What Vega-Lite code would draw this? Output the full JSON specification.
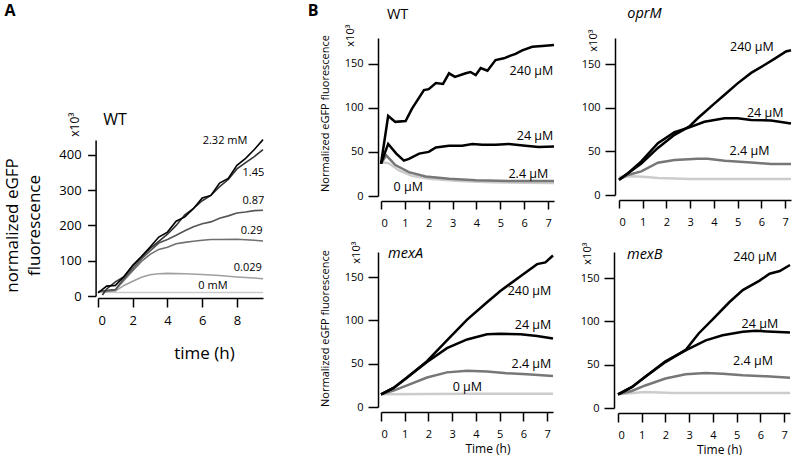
{
  "$schema": "https://vega.github.io/schema/vega-lite/v6.json",
  "background": "white",
  "padding": {"left": 3, "top": 3, "right": 0, "bottom": 0},
  "config": {
    "font": "Open Sans",
    "view": {"stroke": null},
    "axis": {"grid": false, "domainColor": "#000", "tickColor": "#000", "labelColor": "#000", "titleColor": "#000", "domainWidth": 1.5, "tickWidth": 1.5, "labelFont": "Open Sans", "titleFont": "Open Sans", "titleFontWeight": "normal", "labelOverlap": false},
    "text": {"font": "Open Sans", "color": "#000"}
  },
  "datasets": {
    "a": [
      {"c": "0 mM", "t": 0, "v": 11}, {"c": "0 mM", "t": 1, "v": 10}, {"c": "0 mM", "t": 3, "v": 10}, {"c": "0 mM", "t": 6, "v": 10}, {"c": "0 mM", "t": 9.5, "v": 10},
      {"c": "0.029", "t": 0, "v": 12}, {"c": "0.029", "t": 0.5, "v": 12}, {"c": "0.029", "t": 1, "v": 14}, {"c": "0.029", "t": 1.5, "v": 30}, {"c": "0.029", "t": 2, "v": 42}, {"c": "0.029", "t": 2.5, "v": 53}, {"c": "0.029", "t": 3, "v": 60}, {"c": "0.029", "t": 3.5, "v": 63}, {"c": "0.029", "t": 4, "v": 64}, {"c": "0.029", "t": 5, "v": 63}, {"c": "0.029", "t": 6, "v": 61}, {"c": "0.029", "t": 7, "v": 58}, {"c": "0.029", "t": 8, "v": 54}, {"c": "0.029", "t": 9, "v": 51}, {"c": "0.029", "t": 9.5, "v": 49},
      {"c": "0.29", "t": 0, "v": 12}, {"c": "0.29", "t": 0.5, "v": 14}, {"c": "0.29", "t": 1, "v": 17}, {"c": "0.29", "t": 1.5, "v": 45}, {"c": "0.29", "t": 2, "v": 72}, {"c": "0.29", "t": 2.5, "v": 98}, {"c": "0.29", "t": 3, "v": 118}, {"c": "0.29", "t": 3.5, "v": 132}, {"c": "0.29", "t": 4, "v": 138}, {"c": "0.29", "t": 4.5, "v": 148}, {"c": "0.29", "t": 5, "v": 152}, {"c": "0.29", "t": 5.5, "v": 155}, {"c": "0.29", "t": 6, "v": 158}, {"c": "0.29", "t": 6.5, "v": 160}, {"c": "0.29", "t": 7, "v": 160}, {"c": "0.29", "t": 8, "v": 161}, {"c": "0.29", "t": 9, "v": 158}, {"c": "0.29", "t": 9.5, "v": 156},
      {"c": "0.87", "t": 0, "v": 12}, {"c": "0.87", "t": 0.5, "v": 16}, {"c": "0.87", "t": 1, "v": 18}, {"c": "0.87", "t": 1.5, "v": 50}, {"c": "0.87", "t": 2, "v": 78}, {"c": "0.87", "t": 2.5, "v": 105}, {"c": "0.87", "t": 3, "v": 128}, {"c": "0.87", "t": 3.5, "v": 150}, {"c": "0.87", "t": 4, "v": 160}, {"c": "0.87", "t": 4.5, "v": 172}, {"c": "0.87", "t": 5, "v": 185}, {"c": "0.87", "t": 5.5, "v": 196}, {"c": "0.87", "t": 6, "v": 205}, {"c": "0.87", "t": 6.5, "v": 210}, {"c": "0.87", "t": 7, "v": 220}, {"c": "0.87", "t": 7.5, "v": 227}, {"c": "0.87", "t": 8, "v": 235}, {"c": "0.87", "t": 8.5, "v": 238}, {"c": "0.87", "t": 9, "v": 242}, {"c": "0.87", "t": 9.5, "v": 243},
      {"c": "1.45", "t": 0.25, "v": 3}, {"c": "1.45", "t": 0.5, "v": 20}, {"c": "1.45", "t": 1, "v": 40}, {"c": "1.45", "t": 1.5, "v": 55}, {"c": "1.45", "t": 2, "v": 85}, {"c": "1.45", "t": 2.5, "v": 110}, {"c": "1.45", "t": 3, "v": 135}, {"c": "1.45", "t": 3.5, "v": 155}, {"c": "1.45", "t": 4, "v": 175}, {"c": "1.45", "t": 4.5, "v": 200}, {"c": "1.45", "t": 5, "v": 230}, {"c": "1.45", "t": 5.5, "v": 248}, {"c": "1.45", "t": 6, "v": 270}, {"c": "1.45", "t": 6.5, "v": 285}, {"c": "1.45", "t": 7, "v": 310}, {"c": "1.45", "t": 7.5, "v": 330}, {"c": "1.45", "t": 8, "v": 360}, {"c": "1.45", "t": 8.5, "v": 378}, {"c": "1.45", "t": 9, "v": 395}, {"c": "1.45", "t": 9.5, "v": 415},
      {"c": "2.32 mM", "t": 0, "v": 9}, {"c": "2.32 mM", "t": 0.5, "v": 28}, {"c": "2.32 mM", "t": 1, "v": 30}, {"c": "2.32 mM", "t": 1.5, "v": 55}, {"c": "2.32 mM", "t": 2, "v": 87}, {"c": "2.32 mM", "t": 2.5, "v": 112}, {"c": "2.32 mM", "t": 3, "v": 139}, {"c": "2.32 mM", "t": 3.5, "v": 167}, {"c": "2.32 mM", "t": 4, "v": 181}, {"c": "2.32 mM", "t": 4.5, "v": 212}, {"c": "2.32 mM", "t": 5, "v": 224}, {"c": "2.32 mM", "t": 5.5, "v": 248}, {"c": "2.32 mM", "t": 6, "v": 278}, {"c": "2.32 mM", "t": 6.5, "v": 285}, {"c": "2.32 mM", "t": 7, "v": 320}, {"c": "2.32 mM", "t": 7.5, "v": 333}, {"c": "2.32 mM", "t": 8, "v": 370}, {"c": "2.32 mM", "t": 8.5, "v": 390}, {"c": "2.32 mM", "t": 9, "v": 415}, {"c": "2.32 mM", "t": 9.5, "v": 443}
    ],
    "al": [
      {"label": "2.32 mM", "t": 8.6, "v": 439}, {"label": "1.45", "t": 9.57, "v": 348}, {"label": "0.87", "t": 9.57, "v": 270}, {"label": "0.29", "t": 9.47, "v": 184}, {"label": "0.029", "t": 9.43, "v": 78}, {"label": "0 mM", "t": 7.46, "v": 27}
    ],
    "at": [{"label": "WT", "t": 0.3, "v": 484.5}],
    "ap": [{"label": "A", "t": -5.38, "v": 792}],
    "wt": [
      {"c": "0 µM", "t": 0, "v": 38.5}, {"c": "0 µM", "t": 0.33, "v": 37}, {"c": "0 µM", "t": 0.75, "v": 29}, {"c": "0 µM", "t": 1.3, "v": 23}, {"c": "0 µM", "t": 2, "v": 19.6}, {"c": "0 µM", "t": 3.27, "v": 17}, {"c": "0 µM", "t": 4.67, "v": 15.5}, {"c": "0 µM", "t": 6, "v": 15}, {"c": "0 µM", "t": 7.25, "v": 14.7},
      {"c": "2.4 µM", "t": 0, "v": 36.6}, {"c": "2.4 µM", "t": 0.22, "v": 46}, {"c": "2.4 µM", "t": 0.6, "v": 35}, {"c": "2.4 µM", "t": 1.17, "v": 27}, {"c": "2.4 µM", "t": 1.87, "v": 22}, {"c": "2.4 µM", "t": 2.85, "v": 19.6}, {"c": "2.4 µM", "t": 3.97, "v": 17.8}, {"c": "2.4 µM", "t": 5.36, "v": 17}, {"c": "2.4 µM", "t": 7.25, "v": 17},
      {"c": "24 µM", "t": 0, "v": 36.6}, {"c": "24 µM", "t": 0.3, "v": 59}, {"c": "24 µM", "t": 0.64, "v": 48}, {"c": "24 µM", "t": 0.96, "v": 40}, {"c": "24 µM", "t": 1.17, "v": 42}, {"c": "24 µM", "t": 1.6, "v": 48}, {"c": "24 µM", "t": 2, "v": 50}, {"c": "24 µM", "t": 2.3, "v": 55}, {"c": "24 µM", "t": 2.85, "v": 57}, {"c": "24 µM", "t": 3.4, "v": 57}, {"c": "24 µM", "t": 3.83, "v": 59}, {"c": "24 µM", "t": 4.25, "v": 58}, {"c": "24 µM", "t": 4.8, "v": 58}, {"c": "24 µM", "t": 5.36, "v": 59}, {"c": "24 µM", "t": 6.06, "v": 57}, {"c": "24 µM", "t": 6.6, "v": 55.5}, {"c": "24 µM", "t": 7.25, "v": 56},
      {"c": "240 µM", "t": 0, "v": 36.6}, {"c": "240 µM", "t": 0.3, "v": 90.7}, {"c": "240 µM", "t": 0.6, "v": 84}, {"c": "240 µM", "t": 1.03, "v": 85}, {"c": "240 µM", "t": 1.3, "v": 99}, {"c": "240 µM", "t": 1.8, "v": 120}, {"c": "240 µM", "t": 2, "v": 121}, {"c": "240 µM", "t": 2.3, "v": 128}, {"c": "240 µM", "t": 2.6, "v": 127}, {"c": "240 µM", "t": 2.85, "v": 139}, {"c": "240 µM", "t": 3.1, "v": 135}, {"c": "240 µM", "t": 3.55, "v": 139}, {"c": "240 µM", "t": 3.75, "v": 140.5}, {"c": "240 µM", "t": 3.97, "v": 137}, {"c": "240 µM", "t": 4.18, "v": 145}, {"c": "240 µM", "t": 4.46, "v": 142}, {"c": "240 µM", "t": 4.8, "v": 154}, {"c": "240 µM", "t": 5.15, "v": 156}, {"c": "240 µM", "t": 5.43, "v": 159}, {"c": "240 µM", "t": 5.64, "v": 161}, {"c": "240 µM", "t": 5.92, "v": 165}, {"c": "240 µM", "t": 6.34, "v": 169}, {"c": "240 µM", "t": 6.76, "v": 170}, {"c": "240 µM", "t": 7.25, "v": 171}
    ],
    "wtl": [
      {"label": "240 µM", "t": 7.22, "v": 142}, {"label": "24 µM", "t": 7.22, "v": 67.6}, {"label": "2.4 µM", "t": 7.01, "v": 25}, {"label": "0 µM", "t": 1.76, "v": 10}
    ],
    "wtt": [{"label": "WT", "t": 0.25, "v": 200.5}],
    "bp": [{"label": "B", "t": -3.07, "v": 203.5}],
    "oprm": [
      {"c": "0 µM", "t": 0, "v": 20.6}, {"c": "0 µM", "t": 0.5, "v": 21.4}, {"c": "0 µM", "t": 1, "v": 21}, {"c": "0 µM", "t": 1.64, "v": 19.5}, {"c": "0 µM", "t": 3, "v": 18.3}, {"c": "0 µM", "t": 5, "v": 18.3}, {"c": "0 µM", "t": 7.25, "v": 18.3},
      {"c": "2.4 µM", "t": 0, "v": 17.6}, {"c": "2.4 µM", "t": 0.38, "v": 23}, {"c": "2.4 µM", "t": 0.94, "v": 27}, {"c": "2.4 µM", "t": 1.64, "v": 37}, {"c": "2.4 µM", "t": 2.34, "v": 40}, {"c": "2.4 µM", "t": 3.32, "v": 41.6}, {"c": "2.4 µM", "t": 3.74, "v": 41.6}, {"c": "2.4 µM", "t": 4.45, "v": 39.3}, {"c": "2.4 µM", "t": 5.57, "v": 37.4}, {"c": "2.4 µM", "t": 6.41, "v": 35.5}, {"c": "2.4 µM", "t": 7.25, "v": 35.5},
      {"c": "24 µM", "t": 0, "v": 17.6}, {"c": "24 µM", "t": 0.38, "v": 25}, {"c": "24 µM", "t": 0.94, "v": 38.5}, {"c": "24 µM", "t": 1.64, "v": 59.5}, {"c": "24 µM", "t": 2.34, "v": 72}, {"c": "24 µM", "t": 2.97, "v": 77.5}, {"c": "24 µM", "t": 3.6, "v": 84}, {"c": "24 µM", "t": 4.45, "v": 88}, {"c": "24 µM", "t": 5, "v": 88}, {"c": "24 µM", "t": 5.57, "v": 86}, {"c": "24 µM", "t": 6.41, "v": 85.5}, {"c": "24 µM", "t": 7.25, "v": 82},
      {"c": "240 µM", "t": 0, "v": 17.6}, {"c": "240 µM", "t": 0.38, "v": 25}, {"c": "240 µM", "t": 0.94, "v": 36}, {"c": "240 µM", "t": 1.64, "v": 54}, {"c": "240 µM", "t": 2.34, "v": 69}, {"c": "240 µM", "t": 2.97, "v": 78.6}, {"c": "240 µM", "t": 3.32, "v": 88}, {"c": "240 µM", "t": 4.03, "v": 105}, {"c": "240 µM", "t": 4.45, "v": 115}, {"c": "240 µM", "t": 5, "v": 128}, {"c": "240 µM", "t": 5.57, "v": 140}, {"c": "240 µM", "t": 6.13, "v": 149}, {"c": "240 µM", "t": 6.55, "v": 156}, {"c": "240 µM", "t": 7.04, "v": 164.5}, {"c": "240 µM", "t": 7.25, "v": 166}
    ],
    "oprml": [
      {"label": "240 µM", "t": 6.52, "v": 170}, {"label": "24 µM", "t": 6.93, "v": 94}, {"label": "2.4 µM", "t": 6.34, "v": 51}
    ],
    "oprmt": [{"label": "oprM", "t": 0.35, "v": 202.5}],
    "mexa": [
      {"c": "0 µM", "t": 0, "v": 14.6}, {"c": "0 µM", "t": 2, "v": 15}, {"c": "0 µM", "t": 4, "v": 15.3}, {"c": "0 µM", "t": 7.25, "v": 15.4},
      {"c": "2.4 µM", "t": 0, "v": 14.6}, {"c": "2.4 µM", "t": 0.53, "v": 19}, {"c": "2.4 µM", "t": 1.1, "v": 25}, {"c": "2.4 µM", "t": 1.94, "v": 34}, {"c": "2.4 µM", "t": 2.78, "v": 40}, {"c": "2.4 µM", "t": 3.63, "v": 42}, {"c": "2.4 µM", "t": 4.47, "v": 41}, {"c": "2.4 µM", "t": 5.3, "v": 39}, {"c": "2.4 µM", "t": 6.15, "v": 37.7}, {"c": "2.4 µM", "t": 7.25, "v": 35.8},
      {"c": "24 µM", "t": 0, "v": 14.6}, {"c": "24 µM", "t": 0.53, "v": 22}, {"c": "24 µM", "t": 1.1, "v": 34}, {"c": "24 µM", "t": 1.94, "v": 52}, {"c": "24 µM", "t": 2.78, "v": 68}, {"c": "24 µM", "t": 3.63, "v": 78}, {"c": "24 µM", "t": 4.47, "v": 84}, {"c": "24 µM", "t": 5.03, "v": 84.6}, {"c": "24 µM", "t": 5.88, "v": 84}, {"c": "24 µM", "t": 6.58, "v": 82}, {"c": "24 µM", "t": 7.25, "v": 79},
      {"c": "240 µM", "t": 0, "v": 14.6}, {"c": "240 µM", "t": 0.53, "v": 22}, {"c": "240 µM", "t": 1.1, "v": 34}, {"c": "240 µM", "t": 1.94, "v": 53}, {"c": "240 µM", "t": 2.78, "v": 77}, {"c": "240 µM", "t": 3.63, "v": 101}, {"c": "240 µM", "t": 4.47, "v": 121}, {"c": "240 µM", "t": 5.03, "v": 134}, {"c": "240 µM", "t": 5.88, "v": 151}, {"c": "240 µM", "t": 6.58, "v": 165}, {"c": "240 µM", "t": 6.93, "v": 167}, {"c": "240 µM", "t": 7.25, "v": 175}
    ],
    "mexal": [
      {"label": "240 µM", "t": 7.18, "v": 134}, {"label": "24 µM", "t": 7.18, "v": 94.6}, {"label": "2.4 µM", "t": 7.18, "v": 50}, {"label": "0 µM", "t": 4.26, "v": 23}
    ],
    "mexat": [{"label": "mexA", "t": 0.3, "v": 172.3}],
    "mexax": [{"label": "Time (h)", "t": 4.51, "v": -53}],
    "mexb": [
      {"c": "0 µM", "t": 0, "v": 15.8}, {"c": "0 µM", "t": 1.15, "v": 18.5}, {"c": "0 µM", "t": 2.3, "v": 17.3}, {"c": "0 µM", "t": 7.25, "v": 17.3},
      {"c": "2.4 µM", "t": 0, "v": 15.8}, {"c": "2.4 µM", "t": 0.58, "v": 19.6}, {"c": "2.4 µM", "t": 1.15, "v": 26}, {"c": "2.4 µM", "t": 2, "v": 34}, {"c": "2.4 µM", "t": 2.85, "v": 39}, {"c": "2.4 µM", "t": 3.7, "v": 40.4}, {"c": "2.4 µM", "t": 4.41, "v": 39.6}, {"c": "2.4 µM", "t": 5.26, "v": 37.7}, {"c": "2.4 µM", "t": 6.25, "v": 36.5}, {"c": "2.4 µM", "t": 7.25, "v": 35},
      {"c": "24 µM", "t": 0, "v": 15.8}, {"c": "24 µM", "t": 0.58, "v": 24}, {"c": "24 µM", "t": 1.15, "v": 36}, {"c": "24 µM", "t": 2, "v": 54}, {"c": "24 µM", "t": 2.85, "v": 66.5}, {"c": "24 µM", "t": 3.7, "v": 78}, {"c": "24 µM", "t": 4.41, "v": 84}, {"c": "24 µM", "t": 5.26, "v": 88}, {"c": "24 µM", "t": 5.82, "v": 89}, {"c": "24 µM", "t": 6.53, "v": 88}, {"c": "24 µM", "t": 7.25, "v": 87},
      {"c": "240 µM", "t": 0, "v": 15.8}, {"c": "240 µM", "t": 0.58, "v": 24}, {"c": "240 µM", "t": 1.15, "v": 36}, {"c": "240 µM", "t": 2, "v": 53}, {"c": "240 µM", "t": 2.85, "v": 67}, {"c": "240 µM", "t": 3.4, "v": 86}, {"c": "240 µM", "t": 3.98, "v": 102}, {"c": "240 µM", "t": 4.69, "v": 122}, {"c": "240 µM", "t": 5.26, "v": 136}, {"c": "240 µM", "t": 5.97, "v": 147}, {"c": "240 µM", "t": 6.39, "v": 155}, {"c": "240 µM", "t": 6.82, "v": 158}, {"c": "240 µM", "t": 7.25, "v": 165}
    ],
    "mexbl": [
      {"label": "240 µM", "t": 6.7, "v": 174}, {"label": "24 µM", "t": 6.75, "v": 96.5}, {"label": "2.4 µM", "t": 6.53, "v": 54}
    ],
    "mexbt": [{"label": "mexB", "t": 0.38, "v": 172.3}]
  },
  "columns": 2,
  "align": "none",
  "spacing": 40,
  "concat": [
    {
      "width": 165, "height": 258,
      "encoding": {
        "x": {"field": "t", "type": "quantitative", "scale": {"domain": [0, 9.5], "nice": false, "zero": false},
          "axis": {"values": [0, 2, 4, 6, 8], "offset": 2, "tickSize": 9, "labelPadding": 7, "labelFontSize": 13, "title": "time (h)", "titleFontSize": 17, "titleX": 106, "titleY": 60, "titleAlign": "center", "titleBaseline": "alphabetic"}}
      },
      "layer": [
        {
          "data": {"name": "a"},
          "mark": {"type": "line", "strokeWidth": 1.6, "clip": false},
          "encoding": {
            "y": {"field": "v", "type": "quantitative", "scale": {"domain": [0, 442], "range": [258, 102], "nice": false},
              "axis": {"values": [0, 100, 200, 300, 400], "offset": 2.4, "tickSize": 8, "labelPadding": 6.5, "labelFontSize": 13, "title": "x10³", "titleFontSize": 12, "titleAngle": 270, "titleX": -21, "titleY": 74, "titleAlign": "right", "titleBaseline": "middle"}},
            "color": {"field": "c", "type": "nominal", "scale": {"domain": ["0 mM", "0.029", "0.29", "0.87", "1.45", "2.32 mM", "0 µM", "2.4 µM", "24 µM", "240 µM"], "range": ["#cccccc", "#a0a0a0", "#707070", "#555555", "#333333", "#000000", "#cccccc", "#777777", "#000000", "#000000"]}, "legend": null}
          }
        },
        {
          "data": {"name": "al"},
          "mark": {"type": "text", "align": "right", "baseline": "middle", "fontSize": 11},
          "encoding": {
            "y": {"field": "v", "type": "quantitative", "scale": {"domain": [0, 442], "range": [258, 102], "nice": false},
              "axis": {"orient": "left", "labels": false, "ticks": false, "domain": false, "title": ["normalized eGFP", "fluorescence"], "titleFontSize": 17, "titleLineHeight": 22, "titleAngle": 270, "titleX": -86, "titleY": 187, "titleAlign": "center", "titleBaseline": "middle"}},
            "text": {"field": "label"}
          }
        },
        {
          "data": {"name": "at"},
          "mark": {"type": "text", "align": "left", "baseline": "alphabetic", "fontSize": 16},
          "encoding": {
            "y": {"field": "v", "type": "quantitative", "scale": {"domain": [0, 442], "range": [258, 102], "nice": false}, "axis": null},
            "text": {"field": "label"}
          }
        },
        {
          "data": {"name": "ap"},
          "mark": {"type": "text", "align": "left", "baseline": "alphabetic", "fontSize": 16, "fontWeight": "bold"},
          "encoding": {
            "y": {"field": "v", "type": "quantitative", "scale": {"domain": [0, 442], "range": [258, 102], "nice": false}, "axis": null},
            "text": {"field": "label"}
          }
        }
      ],
      "resolve": {"axis": {"y": "independent"}}
    },
    {
      "spacing": 13,
      "vconcat": [
        {
          "spacing": 22,
          "hconcat": [
            {
              "width": 173, "height": 158,
              "encoding": {
                "x": {"field": "t", "type": "quantitative", "scale": {"domain": [0, 7.25], "nice": false, "zero": false},
                  "axis": {"values": [0, 1, 2, 3, 4, 5, 6, 7], "offset": 5, "tickSize": 8, "labelPadding": 8, "labelFontSize": 11, "title": null}}
              },
              "layer": [
                {
                  "data": {"name": "wt"},
                  "mark": {"type": "line", "strokeWidth": 2.5, "clip": false},
                  "encoding": {
                    "y": {"field": "v", "type": "quantitative", "scale": {"domain": [0, 179], "nice": false},
                      "axis": {"values": [0, 50, 100, 150], "offset": 3, "tickSize": 10, "labelPadding": 5, "labelFontSize": 11, "title": "x10³", "titleFontSize": 11, "titleAngle": 270, "titleX": -28, "titleY": -14, "titleAlign": "right", "titleBaseline": "middle"}},
                    "color": {"field": "c", "type": "nominal", "scale": {"domain": ["0 mM", "0.029", "0.29", "0.87", "1.45", "2.32 mM", "0 µM", "2.4 µM", "24 µM", "240 µM"], "range": ["#cccccc", "#a0a0a0", "#707070", "#555555", "#333333", "#000000", "#cccccc", "#777777", "#000000", "#000000"]}, "legend": null}
                  }
                },
                {
                  "data": {"name": "wtl"},
                  "mark": {"type": "text", "align": "right", "baseline": "middle", "fontSize": 12.5},
                  "encoding": {
                    "y": {"field": "v", "type": "quantitative", "scale": {"domain": [0, 179], "nice": false},
                      "axis": {"orient": "left", "labels": false, "ticks": false, "domain": false, "title": "Normalized eGFP fluorescence", "titleFontSize": 11, "titleAngle": 270, "titleX": -56, "titleY": 75, "titleAlign": "center", "titleBaseline": "middle"}},
                    "text": {"field": "label"}
                  }
                },
                {
                  "data": {"name": "wtt"},
                  "mark": {"type": "text", "align": "left", "baseline": "alphabetic", "fontSize": 14.5},
                  "encoding": {
                    "y": {"field": "v", "type": "quantitative", "scale": {"domain": [0, 179], "nice": false}, "axis": null},
                    "text": {"field": "label"}
                  }
                },
                {
                  "data": {"name": "bp"},
                  "mark": {"type": "text", "align": "left", "baseline": "alphabetic", "fontSize": 16, "fontWeight": "bold"},
                  "encoding": {
                    "y": {"field": "v", "type": "quantitative", "scale": {"domain": [0, 179], "nice": false}, "axis": null},
                    "text": {"field": "label"}
                  }
                }
              ],
              "resolve": {"axis": {"y": "independent"}}
            },
            {
              "width": 172, "height": 157,
              "encoding": {
                "x": {"field": "t", "type": "quantitative", "scale": {"domain": [0, 7.25], "nice": false, "zero": false},
                  "axis": {"values": [0, 1, 2, 3, 4, 5, 6, 7], "offset": 5, "tickSize": 8, "labelPadding": 8, "labelFontSize": 11, "title": null}},
                "y": {"field": "v", "type": "quantitative", "scale": {"domain": [0, 180], "nice": false},
                  "axis": {"values": [0, 50, 100, 150], "offset": 4, "tickSize": 10, "labelPadding": 5, "labelFontSize": 11, "title": "x10³", "titleFontSize": 11, "titleAngle": 270, "titleX": -22, "titleY": -9, "titleAlign": "right", "titleBaseline": "middle"}}
              },
              "layer": [
                {
                  "data": {"name": "oprm"},
                  "mark": {"type": "line", "strokeWidth": 2.5, "clip": false},
                  "encoding": {
                    "color": {"field": "c", "type": "nominal", "scale": {"domain": ["0 mM", "0.029", "0.29", "0.87", "1.45", "2.32 mM", "0 µM", "2.4 µM", "24 µM", "240 µM"], "range": ["#cccccc", "#a0a0a0", "#707070", "#555555", "#333333", "#000000", "#cccccc", "#777777", "#000000", "#000000"]}, "legend": null}
                  }
                },
                {
                  "data": {"name": "oprml"},
                  "mark": {"type": "text", "align": "right", "baseline": "middle", "fontSize": 12.5},
                  "encoding": {"text": {"field": "label"}}
                },
                {
                  "data": {"name": "oprmt"},
                  "mark": {"type": "text", "align": "left", "baseline": "alphabetic", "fontSize": 14.5, "fontStyle": "italic"},
                  "encoding": {"text": {"field": "label"}}
                }
              ]
            }
          ]
        },
        {
          "spacing": 22,
          "hconcat": [
            {
              "width": 172, "height": 155,
              "encoding": {
                "x": {"field": "t", "type": "quantitative", "scale": {"domain": [0, 7.25], "nice": false, "zero": false},
                  "axis": {"values": [0, 1, 2, 3, 4, 5, 6, 7], "offset": 5, "tickSize": 9, "labelPadding": 7, "labelFontSize": 11, "title": null}}
              },
              "layer": [
                {
                  "data": {"name": "mexa"},
                  "mark": {"type": "line", "strokeWidth": 2.5, "clip": false},
                  "encoding": {
                    "y": {"field": "v", "type": "quantitative", "scale": {"domain": [0, 179], "nice": false},
                      "axis": {"values": [0, 50, 100, 150], "offset": 3, "tickSize": 10, "labelPadding": 5, "labelFontSize": 11, "title": "x10³", "titleFontSize": 11, "titleAngle": 270, "titleX": -22, "titleY": -11, "titleAlign": "right", "titleBaseline": "middle"}},
                    "color": {"field": "c", "type": "nominal", "scale": {"domain": ["0 mM", "0.029", "0.29", "0.87", "1.45", "2.32 mM", "0 µM", "2.4 µM", "24 µM", "240 µM"], "range": ["#cccccc", "#a0a0a0", "#707070", "#555555", "#333333", "#000000", "#cccccc", "#777777", "#000000", "#000000"]}, "legend": null}
                  }
                },
                {
                  "data": {"name": "mexal"},
                  "mark": {"type": "text", "align": "right", "baseline": "middle", "fontSize": 12.5},
                  "encoding": {
                    "y": {"field": "v", "type": "quantitative", "scale": {"domain": [0, 179], "nice": false},
                      "axis": {"orient": "left", "labels": false, "ticks": false, "domain": false, "title": "Normalized eGFP fluorescence", "titleFontSize": 11, "titleAngle": 270, "titleX": -56, "titleY": 76, "titleAlign": "center", "titleBaseline": "middle"}},
                    "text": {"field": "label"}
                  }
                },
                {
                  "data": {"name": "mexat"},
                  "mark": {"type": "text", "align": "left", "baseline": "alphabetic", "fontSize": 14.5, "fontStyle": "italic"},
                  "encoding": {
                    "y": {"field": "v", "type": "quantitative", "scale": {"domain": [0, 179], "nice": false}, "axis": null},
                    "text": {"field": "label"}
                  }
                },
                {
                  "data": {"name": "mexax"},
                  "mark": {"type": "text", "align": "center", "baseline": "alphabetic", "fontSize": 12},
                  "encoding": {
                    "y": {"field": "v", "type": "quantitative", "scale": {"domain": [0, 179], "nice": false}, "axis": null},
                    "text": {"field": "label"}
                  }
                }
              ],
              "resolve": {"axis": {"y": "independent"}}
            },
            {
              "width": 172, "height": 156,
              "encoding": {
                "x": {"field": "t", "type": "quantitative", "scale": {"domain": [0, 7.25], "nice": false, "zero": false},
                  "axis": {"values": [0, 1, 2, 3, 4, 5, 6, 7], "offset": 5, "tickSize": 9, "labelPadding": 7, "labelFontSize": 11, "title": "Time (h)", "titleFontSize": 12, "titleX": 101, "titleY": 40, "titleAlign": "center", "titleBaseline": "alphabetic"}},
                "y": {"field": "v", "type": "quantitative", "scale": {"domain": [0, 180], "nice": false},
                  "axis": {"values": [0, 50, 100, 150], "offset": 4, "tickSize": 10, "labelPadding": 5, "labelFontSize": 11, "title": "x10³", "titleFontSize": 11, "titleAngle": 270, "titleX": -27, "titleY": -10, "titleAlign": "right", "titleBaseline": "middle"}}
              },
              "layer": [
                {
                  "data": {"name": "mexb"},
                  "mark": {"type": "line", "strokeWidth": 2.5, "clip": false},
                  "encoding": {
                    "color": {"field": "c", "type": "nominal", "scale": {"domain": ["0 mM", "0.029", "0.29", "0.87", "1.45", "2.32 mM", "0 µM", "2.4 µM", "24 µM", "240 µM"], "range": ["#cccccc", "#a0a0a0", "#707070", "#555555", "#333333", "#000000", "#cccccc", "#777777", "#000000", "#000000"]}, "legend": null}
                  }
                },
                {
                  "data": {"name": "mexbl"},
                  "mark": {"type": "text", "align": "right", "baseline": "middle", "fontSize": 12.5},
                  "encoding": {"text": {"field": "label"}}
                },
                {
                  "data": {"name": "mexbt"},
                  "mark": {"type": "text", "align": "left", "baseline": "alphabetic", "fontSize": 14.5, "fontStyle": "italic"},
                  "encoding": {"text": {"field": "label"}}
                }
              ]
            }
          ]
        }
      ]
    }
  ]
}
